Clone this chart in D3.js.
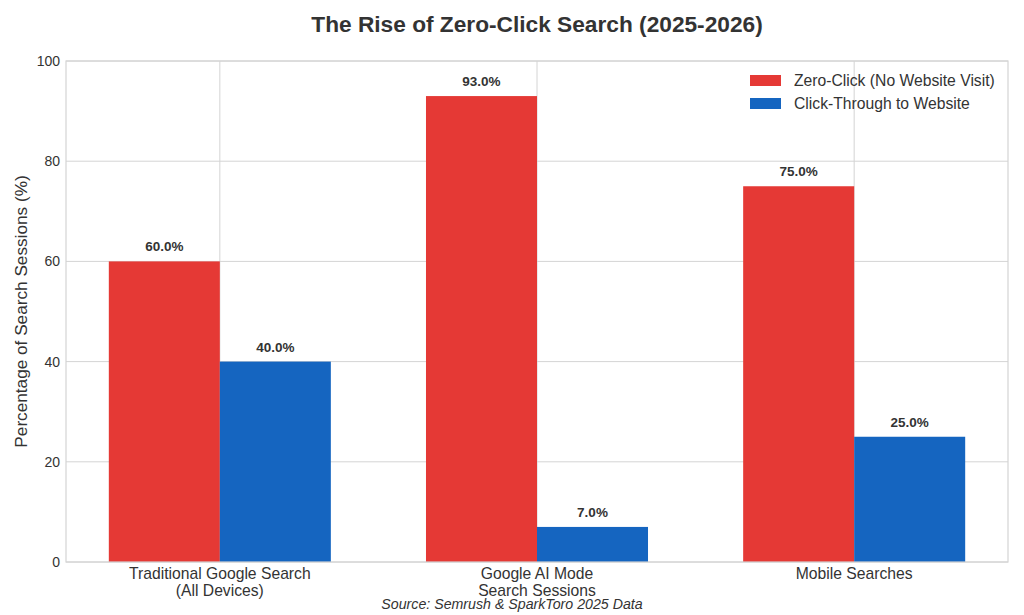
<!DOCTYPE html>
<html>
<head>
<meta charset="utf-8">
<script src="https://d3js.org/d3.v7.min.js"></script>
<style>
body { margin: 0; background: #fff; }
text { font-family: "Liberation Sans", Arial, sans-serif; fill: #333; }
</style>
</head>
<body>
<div id="chart"></div>
<script>
// data
var categories = [["Traditional Google Search", "(All Devices)"], ["Google AI Mode", "Search Sessions"], ["Mobile Searches"]];
var zeroClick = [60, 93, 75];
var clickThrough = [40, 7, 25];
var seriesNames = ["Zero-Click (No Website Visit)", "Click-Through to Website"];
var yTicks = [0, 20, 40, 60, 80, 100];

var width = 1024, height = 615;
var colors = ["#e53935", "#1565c0"];
var barW = 0.35;

var svg = d3.select("#chart").append("svg")
  .attr("width", width).attr("height", height);

var x = d3.scaleLinear().domain([-0.485, 2.485]).range([66, 1008]);
var y = d3.scaleLinear().domain([0, 100]).range([562, 61]);

// grid
svg.append("g").selectAll("line").data(yTicks).enter().append("line")
  .attr("x1", x(-0.485)).attr("x2", x(2.485))
  .attr("y1", function(d) { return y(d); }).attr("y2", function(d) { return y(d); })
  .attr("stroke", "#d4d4d4").attr("stroke-width", 1);
svg.append("g").selectAll("line").data(categories).enter().append("line")
  .attr("x1", function(d, i) { return x(i); }).attr("x2", function(d, i) { return x(i); })
  .attr("y1", y(0)).attr("y2", y(100))
  .attr("stroke", "#d4d4d4").attr("stroke-width", 1);

// bars
var series = [zeroClick, clickThrough];
series.forEach(function(vals, s) {
  var off = s === 0 ? -barW : 0;
  var g = svg.append("g");
  g.selectAll("rect").data(vals).enter().append("rect")
    .attr("x", function(d, i) { return x(i + off); })
    .attr("width", x(barW) - x(0))
    .attr("y", function(d) { return y(d); })
    .attr("height", function(d) { return y(0) - y(d); })
    .attr("fill", colors[s]);
  g.selectAll("text").data(vals).enter().append("text")
    .attr("x", function(d, i) { return x(i + off + barW / 2); })
    .attr("y", function(d) { return y(d) - 10; })
    .attr("text-anchor", "middle")
    .style("font-size", "13.5px").style("font-weight", "bold")
    .text(function(d) { return d.toFixed(1) + "%"; });
});

// frame
svg.append("rect")
  .attr("x", x(-0.485)).attr("y", y(100))
  .attr("width", x(2.485) - x(-0.485)).attr("height", y(0) - y(100))
  .attr("fill", "none").attr("stroke", "#d4d4d4").attr("stroke-width", 1.2);

// y axis labels
svg.append("g").selectAll("text").data(yTicks).enter().append("text")
  .attr("x", 60).attr("y", function(d) { return y(d); })
  .attr("dy", "0.35em").attr("text-anchor", "end")
  .style("font-size", "14px")
  .text(function(d) { return d; });

svg.append("text")
  .attr("transform", "translate(27," + y(50) + ") rotate(-90)")
  .attr("text-anchor", "middle")
  .style("font-size", "17.2px")
  .text("Percentage of Search Sessions (%)");

// x axis labels
var xl = svg.append("g").selectAll("text").data(categories).enter().append("text")
  .attr("x", function(d, i) { return x(i); })
  .attr("y", 579)
  .attr("text-anchor", "middle")
  .style("font-size", "15.7px");
xl.selectAll("tspan").data(function(d) { return d; }).enter().append("tspan")
  .attr("x", function() { return d3.select(this.parentNode).attr("x"); })
  .attr("dy", function(d, j) { return j === 0 ? 0 : 17; })
  .text(function(d) { return d; });

// title
svg.append("text")
  .attr("x", (x(-0.485) + x(2.485)) / 2).attr("y", 32)
  .attr("text-anchor", "middle")
  .style("font-size", "22.7px").style("font-weight", "bold")
  .text("The Rise of Zero-Click Search (2025-2026)");

// legend
var lg = svg.append("g").selectAll("g").data(seriesNames).enter().append("g")
  .attr("transform", function(d, i) { return "translate(750," + (80 + i * 23) + ")"; });
lg.append("rect").attr("x", 0).attr("y", -5).attr("width", 31).attr("height", 11)
  .attr("fill", function(d, i) { return colors[i]; });
lg.append("text").attr("x", 44).attr("dy", "0.35em")
  .style("font-size", "15.7px")
  .text(function(d) { return d; });

// source note
svg.append("text")
  .attr("x", 512).attr("y", 609)
  .attr("text-anchor", "middle")
  .style("font-size", "14.2px").style("font-style", "italic")
  .text("Source: Semrush & SparkToro 2025 Data");
</script>
</body>
</html>
